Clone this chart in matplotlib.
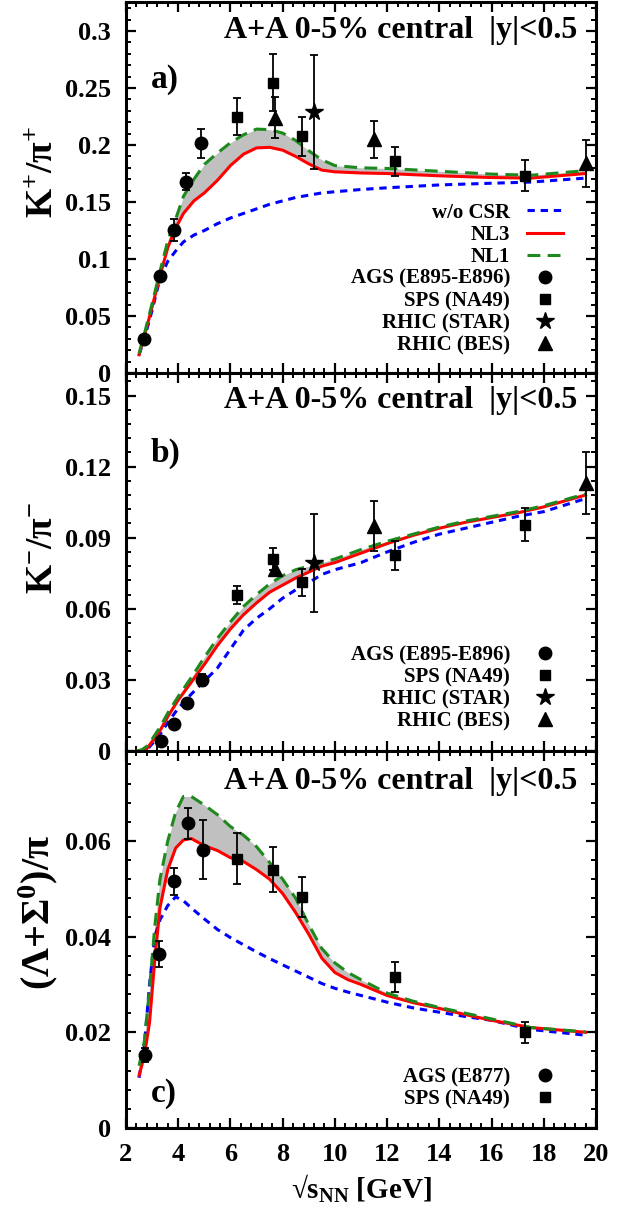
import matplotlib
matplotlib.use("Agg")
import matplotlib.pyplot as plt
from matplotlib.ticker import MultipleLocator, FuncFormatter
from matplotlib.lines import Line2D

plt.rcParams['font.family'] = ['Liberation Serif', 'DejaVu Serif']
plt.rcParams['font.weight'] = 'bold'
plt.rcParams['mathtext.fontset'] = 'custom'
plt.rcParams['mathtext.rm'] = 'Liberation Serif:bold'
plt.rcParams['mathtext.bf'] = 'Liberation Serif:bold'
plt.rcParams['mathtext.it'] = 'Liberation Serif:bold:italic'

# ---------------- panel a: K+/pi+ ----------------
xa = [2.5, 2.7, 3.0, 3.3, 3.6, 3.9, 4.2, 4.6, 5.0, 5.5, 6.0, 6.5, 7.0, 7.5, 8.0,
      8.5, 9.0, 9.5, 10.0, 11.0, 12.0, 14.0, 16.0, 17.5, 19.6]
a_nl3 = [0.016, 0.032, 0.058, 0.085, 0.110, 0.127, 0.140, 0.151, 0.158, 0.169, 0.182,
         0.192, 0.1975, 0.198, 0.1955, 0.190, 0.1835, 0.178, 0.1765, 0.1755, 0.175,
         0.173, 0.1715, 0.171, 0.175]
a_nl1 = [0.017, 0.034, 0.061, 0.089, 0.116, 0.135, 0.155, 0.170, 0.183, 0.193, 0.202,
         0.209, 0.214, 0.2135, 0.2105, 0.204, 0.195, 0.187, 0.182, 0.180, 0.1795,
         0.177, 0.1745, 0.1735, 0.1775]
a_csr = [0.016, 0.030, 0.055, 0.083, 0.098, 0.107, 0.115, 0.121, 0.125, 0.131, 0.136,
         0.140, 0.144, 0.148, 0.151, 0.154, 0.156, 0.158, 0.159, 0.161, 0.1625,
         0.165, 0.1665, 0.1675, 0.171]
a_ags_x = [2.70, 3.31, 3.82, 4.29, 4.89]
a_ags_y = [0.0295, 0.085, 0.1255, 0.168, 0.2015]
a_ags_e = [0.003, 0.004, 0.010, 0.0075, 0.013]
a_sps_x = [6.27, 7.62, 8.73, 12.32, 17.27]
a_sps_y = [0.225, 0.2545, 0.2076, 0.1856, 0.173]
a_sps_e = [0.016, 0.025, 0.017, 0.013, 0.0135]
a_star_x = [9.2]
a_star_y = [0.2287]
a_star_e = [0.050]
a_bes_x = [7.7, 11.5, 19.6]
a_bes_y = [0.224, 0.205, 0.1839]
a_bes_e = [0.018, 0.0165, 0.0205]

# ---------------- panel b: K-/pi- ----------------
xb = [2.4, 2.6, 2.8, 3.0, 3.3, 3.6, 4.0, 4.5, 5.0, 5.5, 6.0, 6.5, 7.0, 7.5, 8.0, 8.5,
      9.0, 9.5, 10.0, 11.0, 12.0, 13.0, 14.0, 15.0, 16.0, 17.0, 18.0, 19.6]
b_nl3 = [0.0, 0.0, 0.001, 0.004, 0.0085, 0.0145, 0.0215, 0.029, 0.0365, 0.0445, 0.0515,
         0.0575, 0.0625, 0.067, 0.070, 0.073, 0.0755, 0.078, 0.0795, 0.0835, 0.0875,
         0.091, 0.094, 0.0965, 0.0985, 0.1005, 0.103, 0.108]
b_nl1 = [0.0, 0.0005, 0.002, 0.005, 0.010, 0.016, 0.023, 0.031, 0.0395, 0.0475, 0.0545,
         0.061, 0.066, 0.0705, 0.074, 0.0765, 0.078, 0.0795, 0.081, 0.085, 0.0885,
         0.0915, 0.0945, 0.097, 0.099, 0.101, 0.1035, 0.1085]
b_csr = [0.0, 0.0, 0.0005, 0.003, 0.007, 0.012, 0.018, 0.024, 0.0295, 0.035, 0.043,
         0.051, 0.056, 0.060, 0.0645, 0.068, 0.071, 0.0745, 0.0765, 0.0795, 0.084,
         0.088, 0.0915, 0.094, 0.0965, 0.099, 0.101, 0.1065]
b_ags_x = [3.34, 3.84, 4.32, 4.91]
b_ags_y = [0.0043, 0.0114, 0.0203, 0.0301]
b_ags_e = [0.0008, 0.0012, 0.0015, 0.0025]
b_sps_x = [6.27, 7.62, 8.73, 12.32, 17.27]
b_sps_y = [0.0657, 0.081, 0.0711, 0.0825, 0.0955]
b_sps_e = [0.0038, 0.0048, 0.0055, 0.006, 0.007]
b_star_x = [9.2]
b_star_y = [0.0793]
b_star_e = [0.0205]
b_bes_x = [7.7, 11.5, 19.6]
b_bes_y = [0.0768, 0.095, 0.113]
b_bes_e = [0.003, 0.0105, 0.013]

# ---------------- panel c: (Lambda+Sigma0)/pi ----------------
xc = [2.5, 2.7, 2.9, 3.1, 3.3, 3.6, 3.9, 4.2, 4.5, 5.0, 5.5, 6.0, 6.5, 7.0, 7.5, 8.0,
      8.5, 9.0, 9.5, 10.0, 10.5, 11.0, 12.0, 13.0, 14.0, 15.0, 16.0, 17.5, 19.6]
c_nl3 = [0.011, 0.015, 0.022, 0.035, 0.046, 0.054, 0.0585, 0.0602, 0.0605, 0.059, 0.058,
         0.0565, 0.0557, 0.054, 0.052, 0.049, 0.045, 0.0405, 0.0355, 0.0325, 0.031,
         0.030, 0.0277, 0.0262, 0.025, 0.0237, 0.0225, 0.021, 0.020]
c_nl1 = [0.013, 0.018, 0.029, 0.042, 0.052, 0.060, 0.066, 0.0693, 0.0693, 0.0675, 0.0655,
         0.063, 0.0612, 0.0588, 0.0555, 0.052, 0.048, 0.0425, 0.0375, 0.0345, 0.0325,
         0.031, 0.0282, 0.0265, 0.0252, 0.024, 0.0228, 0.021, 0.0201]
c_csr = [0.0105, 0.017, 0.030, 0.040, 0.0435, 0.0465, 0.0483, 0.0475, 0.046, 0.0437,
         0.0415, 0.0398, 0.0383, 0.0368, 0.0354, 0.0341, 0.0328, 0.0315, 0.0302, 0.0292,
         0.0284, 0.0277, 0.0263, 0.0251, 0.0242, 0.0233, 0.0225, 0.0206, 0.0194]
c_ags_x = [2.73, 3.28, 3.85, 4.36, 4.94]
c_ags_y = [0.0152, 0.0364, 0.0516, 0.0637, 0.0582]
c_ags_e = [0.0015, 0.0027, 0.0028, 0.0032, 0.0061]
c_sps_x = [6.27, 7.62, 8.73, 12.32, 17.27]
c_sps_y = [0.0563, 0.054, 0.0483, 0.0316, 0.020]
c_sps_e = [0.0053, 0.0047, 0.0042, 0.0031, 0.0022]

title_text = "A+A 0-5% central  |y|<0.5"
xlabel_text = "\u221as$_{\\mathregular{NN}}$ [GeV]"

RED = '#ff0000'
GREEN = '#1e8a1e'
BLUE = '#0000ff'
GRAY = '#c0c0c0'
LW = 2.2

fig = plt.figure(figsize=(6.25, 12.10), dpi=100)
W, H = 625.0, 1210.0
left, right = 126 / W, 596 / W
panels = [(2, 373), (373, 751), (751, 1128)]
axes = []
for top, bot in panels:
    ax = fig.add_axes([left, 1 - bot / H, right - left, (bot - top) / H])
    axes.append(ax)

fmt = FuncFormatter(lambda v, p: ('%g' % round(v, 6)))


def style(ax, ymax, ymaj, ymin):
    ax.set_xlim(2, 20)
    ax.set_ylim(0, ymax)
    ax.xaxis.set_major_locator(MultipleLocator(2))
    ax.xaxis.set_minor_locator(MultipleLocator(0.4))
    ax.yaxis.set_major_locator(MultipleLocator(ymaj))
    ax.yaxis.set_minor_locator(MultipleLocator(ymin))
    ax.yaxis.set_major_formatter(fmt)
    ax.tick_params(which='both', direction='in', top=True, right=True,
                   labelsize=19, pad=11)
    ax.tick_params(which='major', length=7.5, width=1.6)
    ax.tick_params(which='minor', length=3.5, width=1.4)
    for s in ax.spines.values():
        s.set_linewidth(2.2)
    for lab in ax.get_yticklabels() + ax.get_xticklabels():
        lab.set_fontweight('bold')


def curves(ax, x, nl3, nl1, csr):
    ax.fill_between(x, nl3, nl1, color=GRAY, lw=0, zorder=1)
    ax.plot(x, csr, color=BLUE, lw=LW, dashes=(2.4, 1.9), zorder=2, label='w/o CSR')
    ax.plot(x, nl3, color=RED, lw=LW, zorder=3, label='NL3')
    ax.plot(x, nl1, color=GREEN, lw=LW, dashes=(4.2, 2.4), zorder=3, label='NL1')


def pts(ax, x, y, e, marker, ms, label):
    ax.errorbar(x, y, yerr=e, fmt=marker, ms=ms, color='black', mfc='black', mec='black',
                ecolor='black', elinewidth=1.3, capsize=3, capthick=1.3, zorder=5,
                label=label)


def legend(ax, handles, labels, anchor):
    leg = ax.legend(handles, labels, loc='upper right', bbox_to_anchor=anchor,
                    frameon=False, markerfirst=False, fontsize=15, handlelength=1.75,
                    handletextpad=0.8, labelspacing=0.1, borderpad=0,
                    borderaxespad=0, numpoints=1)
    for col in leg._legend_handle_box.get_children():
        col.align = 'right'
    for t in leg.get_texts():
        t.set_fontweight('bold')
    return leg


def mk(marker, ms):
    return Line2D([], [], ls='none', marker=marker, ms=ms, color='black')


line_csr = Line2D([], [], color=BLUE, lw=LW, dashes=(2.4, 1.9))
line_nl3 = Line2D([], [], color=RED, lw=LW)
line_nl1 = Line2D([], [], color=GREEN, lw=LW, dashes=(4.2, 2.4))

MS_O, MS_S, MS_ST, MS_T = 9, 7.5, 13, 9.5
TITLE_FS = 23

# panel a
ax = axes[0]
style(ax, 0.3255, 0.05, 0.01)
curves(ax, xa, a_nl3, a_nl1, a_csr)
pts(ax, a_ags_x, a_ags_y, a_ags_e, 'o', MS_O, 'AGS (E895-E896)')
pts(ax, a_sps_x, a_sps_y, a_sps_e, 's', MS_S, 'SPS (NA49)')
pts(ax, a_star_x, a_star_y, a_star_e, '*', MS_ST, 'RHIC (STAR)')
pts(ax, a_bes_x, a_bes_y, a_bes_e, '^', MS_T, 'RHIC (BES)')
legend(ax, [line_csr, line_nl3, line_nl1, mk('o', MS_O), mk('s', MS_S), mk('*', MS_ST), mk('^', MS_T)],
       ['w/o CSR', 'NL3', 'NL1', 'AGS (E895-E896)', 'SPS (NA49)', 'RHIC (STAR)', 'RHIC (BES)'],
       (0.93, 0.459))
ax.set_ylabel('K$^{+}$/\u03c0$^{+}$', fontsize=27, fontweight='bold')
ax.yaxis.set_label_coords(-0.14, 0.543)
ax.text(0.053, 0.768, 'a)', transform=ax.transAxes, fontsize=24, fontweight='bold')
ax.text(0.96, 0.903, title_text, transform=ax.transAxes, fontsize=TITLE_FS, fontweight='bold',
        ha='right', va='baseline')
ax.tick_params(labelbottom=False)

# panel b
ax = axes[1]
style(ax, 0.1595, 0.03, 0.006)
curves(ax, xb, b_nl3, b_nl1, b_csr)
pts(ax, b_ags_x, b_ags_y, b_ags_e, 'o', MS_O, 'AGS (E895-E896)')
pts(ax, b_sps_x, b_sps_y, b_sps_e, 's', MS_S, 'SPS (NA49)')
pts(ax, b_star_x, b_star_y, b_star_e, '*', MS_ST, 'RHIC (STAR)')
pts(ax, b_bes_x, b_bes_y, b_bes_e, '^', MS_T, 'RHIC (BES)')
legend(ax, [mk('o', MS_O), mk('s', MS_S), mk('*', MS_ST), mk('^', MS_T)],
       ['AGS (E895-E896)', 'SPS (NA49)', 'RHIC (STAR)', 'RHIC (BES)'], (0.93, 0.279))
ax.set_ylabel('K$^{-}$/\u03c0$^{-}$', fontsize=27, fontweight='bold')
ax.yaxis.set_label_coords(-0.14, 0.537)
ax.text(0.053, 0.765, 'b)', transform=ax.transAxes, fontsize=24, fontweight='bold')
ax.text(0.96, 0.907, title_text, transform=ax.transAxes, fontsize=TITLE_FS, fontweight='bold',
        ha='right', va='baseline')
ax.tick_params(labelbottom=False)

# panel c
ax = axes[2]
style(ax, 0.0788, 0.02, 0.004)
curves(ax, xc, c_nl3, c_nl1, c_csr)
pts(ax, c_ags_x, c_ags_y, c_ags_e, 'o', MS_O, 'AGS (E877)')
pts(ax, c_sps_x, c_sps_y, c_sps_e, 's', MS_S, 'SPS (NA49)')
legend(ax, [mk('o', MS_O), mk('s', MS_S)], ['AGS (E877)', 'SPS (NA49)'], (0.93, 0.161))
ax.set_ylabel('(\u039b+\u03a3$^{0}$)/\u03c0', fontsize=29, fontweight='bold')
ax.yaxis.set_label_coords(-0.14, 0.573)
ax.text(0.053, 0.07, 'c)', transform=ax.transAxes, fontsize=24, fontweight='bold')
ax.text(0.96, 0.899, title_text, transform=ax.transAxes, fontsize=TITLE_FS, fontweight='bold',
        ha='right', va='baseline')
ax.set_xlabel(xlabel_text, fontsize=21, fontweight='bold', labelpad=5)

fig.savefig('out.png', dpi=100)
